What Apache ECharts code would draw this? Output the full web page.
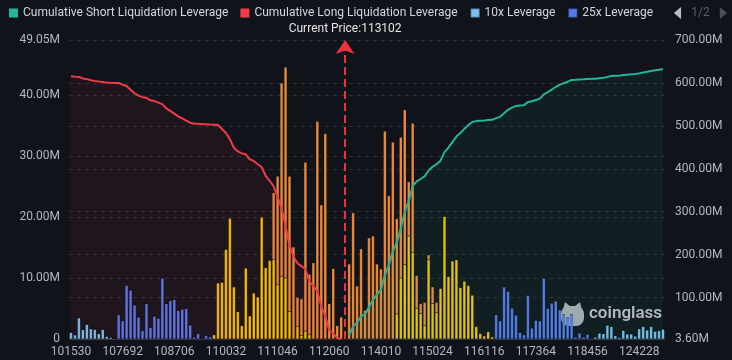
<!DOCTYPE html>
<html>
<head>
<meta charset="utf-8">
<script src="https://cdn.jsdelivr.net/npm/echarts@6/dist/echarts.min.js"></script>
<style>
  html, body { margin: 0; padding: 0; background: #10141a; }
  #main { width: 732px; height: 360px; }
</style>
</head>
<body>
<div id="main"></div>
<script>
// price bins (x axis categories)
const prices = [
  101530, 102004, 102478, 102952, 103426, 103900, 104374, 104848, 105322, 105796, 106270, 106744, 107218, 107692,
  107770, 107848, 107926, 108004, 108082, 108160, 108238, 108316, 108394, 108472, 108550, 108628, 108706,
  108808, 108910, 109012, 109114, 109216, 109318, 109420, 109522, 109624, 109726, 109828, 109930, 110032,
  110110, 110188, 110266, 110344, 110422, 110500, 110578, 110656, 110734, 110812, 110890, 110968, 111046,
  111124, 111202, 111280, 111358, 111436, 111514, 111592, 111670, 111748, 111826, 111904, 111982, 112060,
  112138, 112216, 112294, 113102, 113386, 113464, 113542, 113620, 113698, 113776, 113854, 113932, 114010,
  114088, 114166, 114244, 114322, 114400, 114478, 114556, 114634, 114712, 114790, 114868, 114946, 115024,
  115108, 115192, 115276, 115360, 115444, 115528, 115612, 115696, 115780, 115864, 115948, 116032, 116116,
  116212, 116308, 116404, 116500, 116596, 116692, 116788, 116884, 116980, 117076, 117172, 117268, 117364,
  117448, 117532, 117616, 117700, 117784, 117868, 117952, 118036, 118120, 118204, 118288, 118372, 118456,
  118900, 119344, 119788, 120232, 120676, 121120, 121564, 122008, 122452, 122896, 123340, 123784, 124228,
  124672, 125116, 125560, 126004, 126448, 126892
];
const currentPrice = '113102';

// liquidation volume per bin, millions USD
const lev10x = [
  1.1, 0.7, 3.5, 1.55, 2.4, 1.7, 1.6, 0.9, 1.6, 0.45, 0.3, 0.1, 0, 0, 0,
  0, 0, 0, 0, 0, 0, 0, 0, 0, 0, 0, 0, 0, 0, 0,
  0, 0, 0, 0, 0, 0, 0, 0, 0, 0, 0, 0, 0, 0, 0,
  0, 0, 0, 0, 0, 0, 0, 0, 0, 0, 0, 0, 0, 0, 0,
  0, 0, 0, 0, 0, 0, 0, 0, 0, 0, 0, 0, 0, 0, 0,
  0, 0, 0, 0, 0, 0, 0, 0, 0, 0, 0, 0, 0, 0, 0,
  0, 0, 0, 0, 0, 0, 0, 0, 0, 0, 0, 0, 0, 0, 0,
  0, 0, 0, 0, 0, 0, 0, 0, 0, 0, 0, 0, 0, 0, 0,
  0, 0, 0, 0, 0, 0, 0, 0, 0, 0, 0, 0, 0.35, 1.0, 0.9,
  2.3, 2.05, 0.55, 0.3, 1.45, 0.85, 0.85, 0.5, 1.7, 2.1, 1.5, 2.1, 1.3, 1.4, 1.65
];
const lev25x = [
  0, 0, 0, 0, 0, 0, 0, 0, 0, 0, 0, 0, 4.0, 3.0, 8.8,
  8.05, 5.6, 3.6, 1.4, 5.8, 1.9, 3.75, 3.4, 10.0, 5.8, 6.3, 6.5, 4.7, 4.9, 5.0,
  2.3, 0.35, 0.9, 0.15, 0.6, 0.4, 0, 0, 0, 0, 0, 0, 0, 0, 0,
  0, 0, 0, 0, 0, 0, 0, 0, 0, 0, 0, 0, 0, 0, 0,
  0, 0, 0, 0, 0, 0, 0, 0, 0, 0, 0, 0, 0, 0, 0,
  0, 0, 0, 0, 0, 0, 0, 0, 0, 0, 0, 0, 0, 0, 0,
  0, 0, 0, 0, 0, 0, 0, 0, 0, 0, 0, 0, 0, 0, 0,
  0, 0, 4.0, 3.0, 8.55, 7.85, 5.1, 3.95, 1.1, 0.7, 7.2, 1.8, 3.1, 3.0, 10.0,
  5.05, 5.9, 6.25, 4.8, 4.0, 3.5, 4.0, 0.35, 1.0, 0.35, 0.8, 0.15, 0, 0, 0,
  0, 0, 0, 0, 0, 0, 0, 0, 0, 0, 0, 0, 0, 0, 0
];
const lev50x = [
  0, 0, 0, 0, 0, 0, 0, 0, 0, 0, 0, 0, 0, 0, 0,
  0, 0, 0, 0, 0, 0, 0, 0, 0, 0, 0, 0, 0, 0, 0,
  0, 0, 0, 0, 0, 0, 0.7, 9.2, 9.3, 14.7, 19.8, 8.55, 4.5, 2.2, 11.65,
  3.8, 7.55, 6.9, 20.0, 11.7, 12.9, 13.0, 8.9, 10.3, 10.0, 4.5, 0, 2.1, 0.6, 1.3,
  0.75, 0, 0, 0, 0, 0, 0, 0, 0, 0, 0, 0, 0, 0, 0,
  0, 0, 0, 0, 0, 0, 0, 4.1, 10.0, 12.2, 16.9, 14.2, 5.05, 4.2, 2.2,
  13.0, 5.8, 4.3, 8.3, 20.1, 10.25, 12.8, 13.0, 8.45, 9.5, 8.8, 7.2, 2.05, 0.9, 0.5,
  1.2, 0.35, 0, 0, 0, 0, 0, 0, 0, 0, 0, 0, 0, 0, 0,
  0, 0, 0, 0, 0, 0, 0, 0, 0, 0, 0, 0, 0, 0, 0,
  0, 0, 0, 0, 0, 0, 0, 0, 0, 0, 0, 0, 0, 0, 0
];
const lev100x = [
  0, 0, 0, 0, 0, 0, 0, 0, 0, 0, 0, 0, 0, 0, 0,
  0, 0, 0, 0, 0, 0, 0, 0, 0, 0, 0, 0, 0, 0, 0,
  0, 0, 0, 0, 0, 0, 0, 0, 0, 0, 0, 0, 0, 0, 0,
  0, 0, 0, 0, 0, 0, 11.0, 17.8, 31.7, 34.6, 22.2, 15.1, 4.75, 6.0, 27.7,
  9.85, 12.5, 35.7, 22.0, 33.7, 5.8, 11.55, 2.2, 3.6, 0, 12.3, 20.7, 8.7, 14.8, 4.7,
  16.6, 16.9, 12.3, 11.5, 34.1, 23.5, 32.3, 15.65, 23.1, 25.4, 8.9, 21.2, 5.35, 1.6, 3.8,
  0.8, 2.75, 1.7, 0, 0, 0, 0, 0, 0, 0, 0, 0, 0, 0, 0,
  0, 0, 0, 0, 0, 0, 0, 0, 0, 0, 0, 0, 0, 0, 0,
  0, 0, 0, 0, 0, 0, 0, 0, 0, 0, 0, 0, 0, 0, 0,
  0, 0, 0, 0, 0, 0, 0, 0, 0, 0, 0, 0, 0, 0, 0
];

// cumulative lines, millions USD (right axis)
const cumLong = [
  615.8, 614.7, 614.0, 610.5, 608.9, 606.5, 604.8, 603.2, 602.3, 600.7, 600.3, 600.0, 599.9, 595.9, 592.9,
  584.1, 576.0, 570.4, 566.8, 565.4, 559.6, 557.7, 554.0, 550.6, 540.6, 534.8, 528.5, 522.0, 517.3, 512.4,
  507.4, 505.1, 504.7, 503.8, 503.7, 503.1, 502.7, 502.0, 492.8, 483.5, 468.8, 449.0, 440.4, 435.9, 433.7,
  422.1, 418.3, 410.7, 403.8, 383.8, 372.1, 359.2, 335.2, 308.5, 266.5, 221.9, 195.2, 180.1, 173.3, 166.7,
  137.7, 127.1, 114.6, 78.9, 56.9, 23.2, 17.4, 5.8, 3.6, null, null, null, null, null, null,
  null, null, null, null, null, null, null, null, null, null, null, null, null, null, null,
  null, null, null, null, null, null, null, null, null, null, null, null, null, null, null,
  null, null, null, null, null, null, null, null, null, null, null, null, null, null, null,
  null, null, null, null, null, null, null, null, null, null, null, null, null, null, null,
  null, null, null, null, null, null, null, null, null, null, null, null, null, null, null
];
const cumShort = [
  null, null, null, null, null, null, null, null, null, null, null, null, null, null, null,
  null, null, null, null, null, null, null, null, null, null, null, null, null, null, null,
  null, null, null, null, null, null, null, null, null, null, null, null, null, null, null,
  null, null, null, null, null, null, null, null, null, null, null, null, null, null, null,
  null, null, null, null, null, null, null, null, null, null, 12.3, 33.0, 41.7, 56.5, 61.2,
  77.8, 94.7, 107.0, 118.5, 152.6, 176.1, 208.4, 228.2, 261.3, 298.9, 324.7, 360.1, 370.5, 376.3, 382.3,
  396.1, 404.6, 410.6, 418.9, 439.0, 449.3, 462.1, 475.1, 483.5, 493.0, 501.8, 509.0, 511.1, 512.0, 512.5,
  513.7, 514.0, 518.0, 521.0, 529.6, 537.4, 542.5, 546.5, 547.6, 548.3, 555.5, 557.3, 560.4, 563.4, 573.4,
  578.4, 584.3, 590.6, 595.4, 599.4, 602.9, 606.9, 607.2, 608.2, 608.6, 609.4, 609.5, 609.9, 610.9, 611.8,
  614.1, 616.1, 616.7, 617.0, 618.4, 619.3, 620.1, 620.6, 622.3, 624.4, 625.9, 628.0, 629.3, 630.7, 632.4
];

const axisText = '#b3b8bf';
const gridLine = '#2a2f37';

let myChart = echarts.init(document.getElementById('main'));

function barSeries(name, data, color) {
    return {
        name: name,
        type: 'bar',
        stack: 'lev',
        data: data,
        barCategoryGap: '25%',
        itemStyle: { color: color, borderColor: 'rgba(0,0,0,0.25)', borderWidth: 0.5 },
        emphasis: { disabled: true }
    };
}

let option = {
    backgroundColor: '#10141a',
    animation: false,
    textStyle: { fontFamily: 'Roboto' },
    legend: {
        type: 'scroll',
        top: 2,
        left: 4,
        right: 0,
        icon: 'rect',
        itemWidth: 9,
        itemHeight: 9,
        itemGap: 12,
        textStyle: { color: '#d3d6da', fontSize: 12 },
        pageIconColor: '#4a4f57',
        pageIconInactiveColor: '#b9bdc2',
        pageIconSize: 12,
        pageTextStyle: { color: '#5a5f66' },
        data: ['Cumulative Short Liquidation Leverage', 'Cumulative Long Liquidation Leverage',
               '10x Leverage', '25x Leverage', '50x Leverage', '100x Leverage']
    },
    grid: { left: 69, right: 67, top: 40, bottom: 21, containLabel: false },
    xAxis: {
        type: 'category',
        data: prices,
        boundaryGap: true,
        axisLine: { lineStyle: { color: '#3a3f47' } },
        axisTick: { length: 4, lineStyle: { color: '#3a3f47' } },
        axisLabel: { color: axisText, fontSize: 12, interval: 12, margin: 7 },
        splitLine: { show: false }
    },
    yAxis: [
        {
            type: 'value',
            min: 0,
            max: 49.05,
            splitNumber: 5,
            axisLine: { show: false },
            axisTick: { show: false },
            axisLabel: {
                color: axisText, fontSize: 12, margin: 9,
                formatter: v => v === 0 ? '0' : v.toFixed(2) + 'M'
            },
            splitLine: { lineStyle: { color: gridLine, type: [4, 4] } }
        },
        {
            type: 'value',
            min: 3.6,
            max: 700,
            splitNumber: 7,
            axisLine: { show: false },
            axisTick: { show: false },
            axisLabel: {
                color: axisText, fontSize: 12, margin: 10,
                formatter: v => v.toFixed(2) + 'M'
            },
            splitLine: { lineStyle: { color: gridLine, type: [4, 4] } }
        }
    ],
    series: [
        barSeries('10x Leverage', lev10x, '#7ac0ee'),
        barSeries('25x Leverage', lev25x, '#567aee'),
        barSeries('50x Leverage', lev50x, '#f4c400'),
        barSeries('100x Leverage', lev100x, '#ee8a3a'),
        {
            name: 'Cumulative Short Liquidation Leverage',
            type: 'line',
            yAxisIndex: 1,
            data: cumShort,
            z: 3,
            showSymbol: false,
            lineStyle: { color: '#25b39a', width: 2 },
            itemStyle: { color: '#25b39a' },
            areaStyle: { color: 'rgba(37,179,154,0.1)' }
        },
        {
            name: 'Cumulative Long Liquidation Leverage',
            type: 'line',
            yAxisIndex: 1,
            data: cumLong,
            z: 3,
            showSymbol: false,
            lineStyle: { color: '#f03a4a', width: 2 },
            itemStyle: { color: '#f03a4a' },
            areaStyle: { color: 'rgba(240,58,74,0.1)' },
            markLine: {
                silent: true,
                symbol: ['none', 'arrow'],
                symbolSize: 14,
                itemStyle: { color: '#f0303f' },
                lineStyle: { color: '#f0303f', width: 2, type: [8, 4] },
                label: {
                    position: 'end',
                    color: '#e3e5e8',
                    fontSize: 12,
                    formatter: 'Current Price:' + currentPrice
                },
                data: [{ xAxis: currentPrice }]
            }
        }
    ],
    graphic: [
        {
            type: 'group',
            left: 561,
            top: 302,
            z: 100,
            children: [
                { type: 'rect', shape: { x: 0, y: 4, width: 23, height: 20, r: 8 }, style: { fill: '#a7abb0' } },
                { type: 'polygon', shape: { points: [[2, 8], [4, 0], [10, 5]] }, style: { fill: '#a7abb0' } },
                { type: 'polygon', shape: { points: [[13, 5], [19, 0], [21, 8]] }, style: { fill: '#a7abb0' } }
            ]
        },
        {
            type: 'text',
            left: 589,
            top: 305,
            z: 100,
            style: { text: 'coinglass', fill: '#b4b8bd', font: '600 17px Roboto' }
        }
    ]
};

myChart.setOption(option);
</script>
</body>
</html>
